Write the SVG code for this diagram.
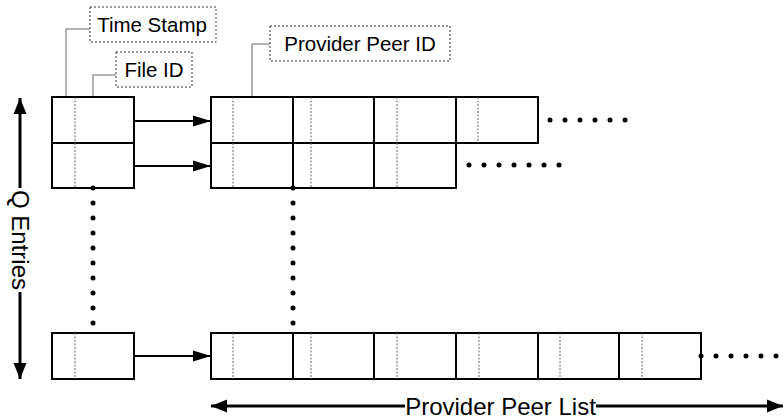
<svg xmlns="http://www.w3.org/2000/svg" width="783" height="420" viewBox="0 0 783 420">
<style>
.cell{fill:#fff;stroke:#000;stroke-width:2}
.div{stroke:#666;stroke-width:1;stroke-dasharray:2,1.5}
.lbl{fill:#fff;stroke:#333;stroke-width:1;stroke-dasharray:2,2}
.lead{fill:none;stroke:#999;stroke-width:1.5}
.t{font-family:"Liberation Sans",Arial,sans-serif;fill:#000}
.dot{fill:#000}
.conn{stroke:#000;stroke-width:2;fill:none}
.big{stroke:#000;stroke-width:3;fill:none}
</style>
<defs>
<marker id="ah" markerUnits="userSpaceOnUse" markerWidth="18" markerHeight="12" refX="18" refY="6" orient="auto">
<path d="M0,0.5 L18,6 L0,11.5 z" fill="#000"/>
</marker>
<marker id="bh" markerUnits="userSpaceOnUse" markerWidth="16" markerHeight="14" refX="16" refY="7" orient="auto">
<path d="M0,0.5 L16,7 L0,13.5 z" fill="#000"/>
</marker>
</defs>

<g id="labels">
<g id="lbl-timestamp">
<path class="lead" d="M90,29 H66 V110"/>
<rect class="lbl" x="90" y="7" width="126" height="35"/>
<text class="t" x="152" y="31.5" font-size="20.5" text-anchor="middle">Time Stamp</text>
</g>
<g id="lbl-fileid">
<path class="lead" d="M116,75 H93 V110"/>
<rect class="lbl" x="116" y="52" width="76" height="35"/>
<text class="t" x="154" y="77" font-size="20.5" text-anchor="middle">File ID</text>
</g>
<g id="lbl-peerid">
<path class="lead" d="M270,44 H252 V110"/>
<rect class="lbl" x="270" y="26" width="180" height="35"/>
<text class="t" x="360" y="51" font-size="20.5" text-anchor="middle">Provider Peer ID</text>
</g>
</g>

<g id="entry1">
<rect class="cell" x="52" y="97" width="82" height="46"/>
<line class="div" x1="75" y1="97" x2="75" y2="143"/>
</g>
<g id="entry2">
<rect class="cell" x="52" y="143" width="82" height="45"/>
<line class="div" x1="75" y1="143" x2="75" y2="188"/>
</g>
<g id="entryQ">
<rect class="cell" x="52" y="333" width="82" height="46"/>
<line class="div" x1="75" y1="333" x2="75" y2="379"/>
</g>

<g id="list1">
<rect class="cell" x="211" y="97" width="82" height="46"/>
<line class="div" x1="233" y1="97" x2="233" y2="143"/>
<rect class="cell" x="293" y="97" width="81" height="46"/>
<line class="div" x1="311" y1="97" x2="311" y2="143"/>
<rect class="cell" x="374" y="97" width="82" height="46"/>
<line class="div" x1="397" y1="97" x2="397" y2="143"/>
<rect class="cell" x="456" y="97" width="82" height="46"/>
<line class="div" x1="478" y1="97" x2="478" y2="143"/>
</g>
<g id="list2">
<rect class="cell" x="211" y="143" width="82" height="45"/>
<line class="div" x1="233" y1="143" x2="233" y2="188"/>
<rect class="cell" x="293" y="143" width="81" height="45"/>
<line class="div" x1="311" y1="143" x2="311" y2="188"/>
<rect class="cell" x="374" y="143" width="82" height="45"/>
<line class="div" x1="397" y1="143" x2="397" y2="188"/>
</g>
<g id="listQ">
<rect class="cell" x="211" y="333" width="82" height="46"/>
<line class="div" x1="233" y1="333" x2="233" y2="379"/>
<rect class="cell" x="293" y="333" width="81" height="46"/>
<line class="div" x1="311" y1="333" x2="311" y2="379"/>
<rect class="cell" x="374" y="333" width="82" height="46"/>
<line class="div" x1="397" y1="333" x2="397" y2="379"/>
<rect class="cell" x="456" y="333" width="82" height="46"/>
<line class="div" x1="479" y1="333" x2="479" y2="379"/>
<rect class="cell" x="538" y="333" width="81" height="46"/>
<line class="div" x1="560" y1="333" x2="560" y2="379"/>
<rect class="cell" x="619" y="333" width="82" height="46"/>
<line class="div" x1="642" y1="333" x2="642" y2="379"/>
</g>

<g id="connectors">
<line class="conn" x1="134" y1="121" x2="211" y2="121" marker-end="url(#ah)"/>
<line class="conn" x1="134" y1="166" x2="211" y2="166" marker-end="url(#ah)"/>
<line class="conn" x1="134" y1="356" x2="211" y2="356" marker-end="url(#ah)"/>
</g>

<g id="ellipses">
<g class="dot">
<circle cx="93" cy="188" r="2.5"/><circle cx="93" cy="203" r="2.5"/><circle cx="93" cy="218" r="2.5"/><circle cx="93" cy="233" r="2.5"/><circle cx="93" cy="248" r="2.5"/><circle cx="93" cy="263" r="2.5"/><circle cx="93" cy="278" r="2.5"/><circle cx="93" cy="293" r="2.5"/><circle cx="93" cy="308" r="2.5"/><circle cx="93" cy="323" r="2.5"/>
<circle cx="293" cy="188" r="2.5"/><circle cx="293" cy="203" r="2.5"/><circle cx="293" cy="218" r="2.5"/><circle cx="293" cy="233" r="2.5"/><circle cx="293" cy="248" r="2.5"/><circle cx="293" cy="263" r="2.5"/><circle cx="293" cy="278" r="2.5"/><circle cx="293" cy="293" r="2.5"/><circle cx="293" cy="308" r="2.5"/><circle cx="293" cy="323" r="2.5"/>
<circle cx="550" cy="120" r="2.5"/><circle cx="565" cy="120" r="2.5"/><circle cx="580" cy="120" r="2.5"/><circle cx="595" cy="120" r="2.5"/><circle cx="610" cy="120" r="2.5"/><circle cx="625" cy="120" r="2.5"/>
<circle cx="469" cy="165" r="2.5"/><circle cx="484" cy="165" r="2.5"/><circle cx="499" cy="165" r="2.5"/><circle cx="514" cy="165" r="2.5"/><circle cx="529" cy="165" r="2.5"/><circle cx="544" cy="165" r="2.5"/><circle cx="559" cy="165" r="2.5"/>
<circle cx="701" cy="356" r="2.5"/><circle cx="716" cy="356" r="2.5"/><circle cx="731" cy="356" r="2.5"/><circle cx="746" cy="356" r="2.5"/><circle cx="761" cy="356" r="2.5"/><circle cx="776" cy="356" r="2.5"/>
</g>
</g>

<g id="q-entries">
<line class="big" x1="20" y1="188" x2="20" y2="98" marker-end="url(#bh)"/>
<line class="big" x1="20" y1="292" x2="20" y2="379" marker-end="url(#bh)"/>
<text class="t" x="0" y="0" font-size="24" text-anchor="middle" transform="translate(12,240) rotate(90)">Q Entries</text>
</g>

<g id="peer-list">
<line class="big" x1="405" y1="406" x2="211" y2="406" marker-end="url(#bh)"/>
<line class="big" x1="596" y1="406" x2="783" y2="406" marker-end="url(#bh)"/>
<text class="t" x="500.5" y="414.5" font-size="24" text-anchor="middle">Provider Peer List</text>
</g>
</svg>
